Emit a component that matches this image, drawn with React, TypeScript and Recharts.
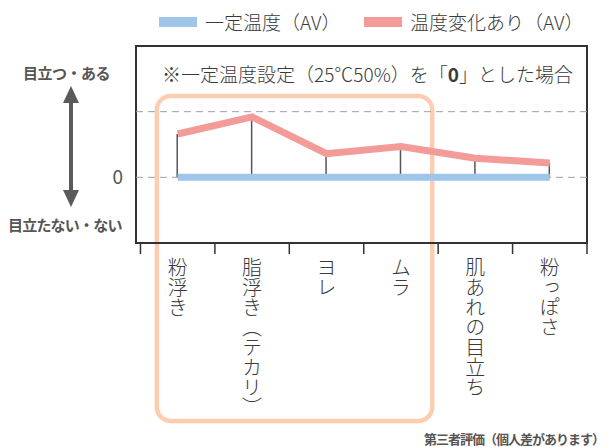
import React from "react";
import {
  ComposedChart,
  Line,
  Bar,
  XAxis,
  YAxis,
  ReferenceLine,
  ReferenceArea,
} from "recharts";

// categories (x axis) and series values
const categories = ["粉浮き", "脂浮き（テカリ）", "ヨレ", "ムラ", "肌あれの目立ち", "粉っぽさ"];
const constantTemp = [0, 0, 0, 0, 0, 0];
const variableTemp = [0.66, 0.92, 0.36, 0.47, 0.29, 0.22];

const seriesNames = ["一定温度（AV）", "温度変化あり（AV）"];
const yTickLabels = ["0"];

// highlighted group (粉浮き .. ムラ), in data units
const highlightX = [0.22, 3.92];
const highlightY = [-3.71, 1.24];

const BLUE = "#9fc6ea";
const RED = "#f29b98";
const ORANGE = "#fccdb1";
const INK = "#3a3a3a";
const FONT = "'Noto Sans CJK JP', 'Noto Sans', sans-serif";

const data = categories.map((name, i) => ({
  x: i + 0.5,
  name,
  constant: constantTemp[i],
  change: variableTemp[i],
}));

// boundaries get a tick mark, centres get the category label
const xTicks: number[] = [];
for (let i = 0; i <= categories.length; i++) {
  xTicks.push(i);
  if (i < categories.length) xTicks.push(i + 0.5);
}

function XTick(props: any) {
  const { x, y, payload } = props;
  const v = payload.value;
  if (Number.isInteger(v)) {
    return <line x1={x} x2={x} y1={y} y2={y + 11} stroke="#333" strokeWidth={1.5} />;
  }
  const label = categories[Math.floor(v)];
  return (
    <text
      x={x}
      y={y + 14}
      fontSize={20}
      fontWeight={300}
      fill={INK}
      fontFamily={FONT}
      style={{ writingMode: "vertical-rl" }}
    >
      {label}
    </text>
  );
}

function LegendItem({ color, text, left }: { color: string; text: string; left: number }) {
  return (
    <div style={{ position: "absolute", left, top: 8, display: "flex", alignItems: "center" }}>
      <div style={{ width: 38, height: 10, background: color, marginRight: 8 }} />
      <span style={{ fontSize: 19, color: INK, fontWeight: 300, whiteSpace: "nowrap" }}>{text}</span>
    </div>
  );
}

export default function App() {
  return (
    <div
      style={{
        position: "absolute",
        left: 0,
        top: 0,
        width: 606,
        height: 447,
        background: "#fff",
        fontFamily: FONT,
        overflow: "hidden",
      }}
    >
      <ComposedChart
        width={606}
        height={447}
        data={data}
        margin={{ top: 46, right: 19, bottom: 0, left: 0 }}
      >
        <XAxis
          dataKey="x"
          type="number"
          domain={[-0.06, categories.length]}
          ticks={xTicks}
          interval={0}
          tick={<XTick />}
          tickLine={false}
          axisLine={false}
          tickSize={0}
          tickMargin={0}
          height={204}
        />
        <YAxis
          type="number"
          domain={[-1, 2]}
          ticks={[0]}
          tickFormatter={(v: number) => (v === 0 ? yTickLabels[0] : "")}
          tick={{ fontSize: 19, fill: "#555", fontFamily: FONT }}
          tickLine={false}
          axisLine={false}
          tickSize={0}
          tickMargin={13}
          width={136}
        />
        <ReferenceArea
          x1={highlightX[0]}
          x2={highlightX[1]}
          y1={highlightY[0]}
          y2={highlightY[1]}
          fill="none"
          stroke={ORANGE}
          strokeWidth={4.5}
          radius={14}
          ifOverflow="visible"
        />
        <ReferenceArea
          x1={-0.06}
          x2={categories.length}
          y1={-1}
          y2={2}
          fill="none"
          stroke="#333"
          strokeWidth={2}
          ifOverflow="visible"
        />
        <ReferenceLine y={1} stroke="#a0a0a0" strokeDasharray="7 5" />
        <ReferenceLine y={0} stroke="#a0a0a0" strokeDasharray="7 5" />
        <Line
          dataKey="constant"
          stroke={BLUE}
          strokeWidth={7}
          dot={false}
          isAnimationActive={false}
        />
        <Line
          dataKey="change"
          stroke={RED}
          strokeWidth={7}
          dot={false}
          isAnimationActive={false}
        />
        <Bar dataKey="change" barSize={1.5} fill="#555" isAnimationActive={false} />
      </ComposedChart>

      {/* legend */}
      <LegendItem color={BLUE} text={seriesNames[0]} left={159} />
      <LegendItem color={RED} text={seriesNames[1]} left={364} />

      {/* note inside plot */}
      <div
        style={{
          position: "absolute",
          left: 162,
          top: 60,
          fontSize: 19,
          color: INK,
          fontWeight: 300,
          whiteSpace: "nowrap",
        }}
      >
        ※一定温度設定（25℃50%）を「<b style={{ fontWeight: 700 }}>0</b>」とした場合
      </div>

      {/* y axis meaning */}
      <div
        style={{
          position: "absolute",
          left: 23,
          top: 62,
          fontSize: 15,
          fontWeight: 700,
          color: "#555",
          letterSpacing: -0.5,
          whiteSpace: "nowrap",
        }}
      >
        目立つ・ある
      </div>
      <div
        style={{
          position: "absolute",
          left: 8,
          top: 214,
          fontSize: 15,
          fontWeight: 700,
          color: "#555",
          letterSpacing: -0.8,
          whiteSpace: "nowrap",
        }}
      >
        目立たない・ない
      </div>
      <svg style={{ position: "absolute", left: 60, top: 84 }} width={24} height={126}>
        <line x1={11} x2={11} y1={12} y2={112} stroke="#5a5a5a" strokeWidth={4} />
        <polygon points="11,2 3,19 19,19" fill="#5a5a5a" />
        <polygon points="11,123 3,106 19,106" fill="#5a5a5a" />
      </svg>

      {/* footer */}
      <div
        style={{
          position: "absolute",
          right: 2,
          top: 432,
          fontSize: 13,
          lineHeight: "14px",
          fontWeight: 700,
          color: "#555",
          letterSpacing: -1,
          whiteSpace: "nowrap",
        }}
      >
        第三者評価（個人差があります）
      </div>
    </div>
  );
}
